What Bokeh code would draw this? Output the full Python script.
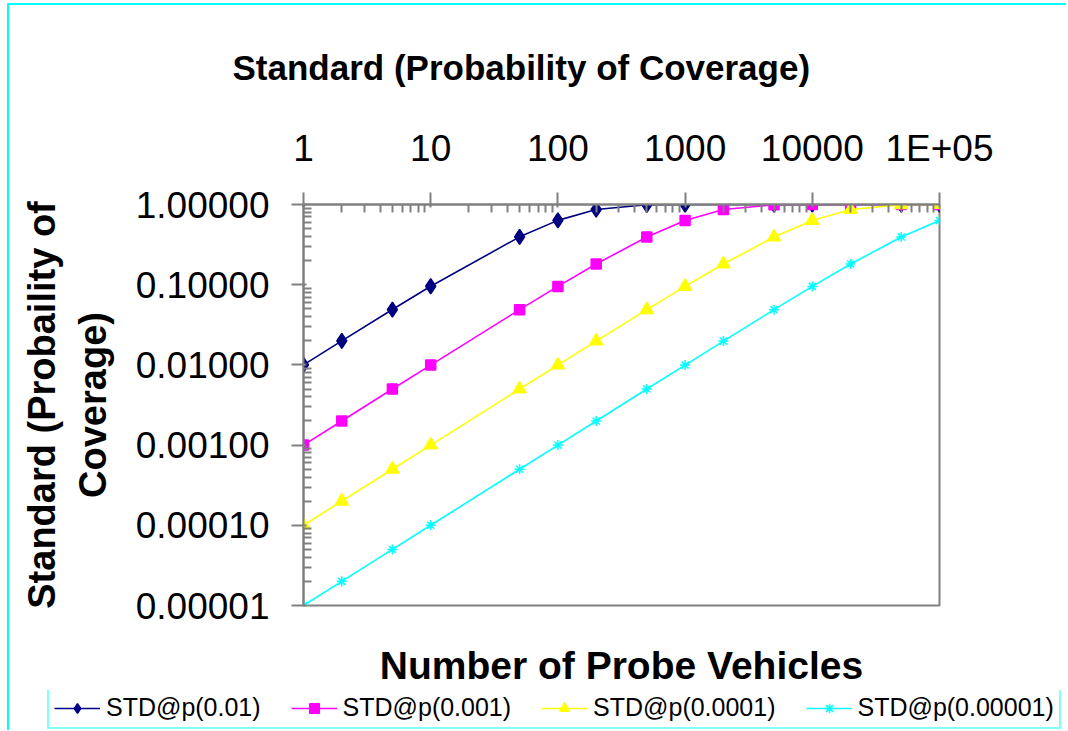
from bokeh.plotting import figure
from bokeh.layouts import column, row
from bokeh.models import (Range1d, FixedTicker, PrintfTickFormatter, Legend,
                          LegendItem, CustomJSTickFormatter, LogAxis)
from bokeh.embed import file_html
from bokeh.resources import INLINE

# ---------------- data ----------------
n_vehicles = [1, 2, 5, 10, 50, 100, 200, 500, 1000, 2000, 5000, 10000, 20000, 50000, 100000]
std_p_0_01 = [0.01, 0.0199, 0.049, 0.0956, 0.395, 0.634, 0.866, 0.9934, 1.0, 1.0, 1.0, 1.0, 1.0, 1.0, 1.0]
std_p_0_001 = [0.001, 0.002, 0.005, 0.00995, 0.0488, 0.0952, 0.181, 0.394, 0.632, 0.865, 0.9933, 1.0, 1.0, 1.0, 1.0]
std_p_0_0001 = [0.0001, 0.0002, 0.0005, 0.001, 0.005, 0.00995, 0.0198, 0.0488, 0.0952, 0.181, 0.393, 0.632, 0.865, 0.9933, 1.0]
std_p_0_00001 = [0.00001, 0.00002, 0.00005, 0.0001, 0.0005, 0.001, 0.002, 0.005, 0.00995, 0.0198, 0.0488, 0.0952, 0.181, 0.393, 0.632]
series_names = ["STD@p(0.01)", "STD@p(0.001)", "STD@p(0.0001)", "STD@p(0.00001)"]
x_tick_values = [1, 10, 100, 1000, 10000, 100000]
x_tick_labels = ["1", "10", "100", "1000", "10000", "1E+05"]
y_tick_values = [0.00001, 0.0001, 0.001, 0.01, 0.1, 1.0]

chart_title = "Standard (Probability of Coverage)"
x_title = "Number of Probe Vehicles"
y_title_lines = ["Standard (Probaility of", "Coverage)"]

# ---------------- styles ----------------
FONT = "Liberation Sans"
GRAY = "#808080"
CYAN = "#00FFFF"
colors = ["#000080", "#FF00FF", "#FFFF00", "#00FFFF"]
markers = ["diamond", "square", "triangle", "asterisk"]
msizes = [15, 10, 13, 10]

W = 1057
H_MAIN, H_LEG = 685, 40
FL, FR, FT, FB = 294, 930, 199, 600  # frame edges in canvas px

p = figure(width=W, height=H_MAIN, x_axis_type="log", y_axis_type="log",
           x_axis_location="above",
           x_range=Range1d(1, 100000), y_range=Range1d(0.00001, 1),
           output_backend="svg", toolbar_location=None,
           min_border_left=FL, min_border_right=W - FR,
           min_border_top=FT, min_border_bottom=H_MAIN - FB)
p.grid.visible = False
p.outline_line_color = GRAY
p.outline_line_width = 2
p.background_fill_color = "white"
p.border_fill_color = "white"

# title
p.title.text = chart_title
p.title.align = "left"
p.title.offset = 223 - FL
p.title.text_font = FONT
p.title.text_font_style = "bold"
p.title.text_font_size = "35px"
p.title.text_color = "black"
p.title.standoff = 76


def minor_for(ticks):
    out = []
    for a in ticks[:-1]:
        out += [a * m for m in range(2, 10)]
    return out


for ax in (p.xaxis[0], p.yaxis[0]):
    ax.axis_line_color = GRAY
    ax.axis_line_width = 2
    ax.major_tick_line_color = GRAY
    ax.major_tick_line_width = 2
    ax.minor_tick_line_color = GRAY
    ax.minor_tick_line_width = 2
    ax.major_tick_out = 12
    ax.major_tick_in = 3
    ax.minor_tick_in = 8
    ax.minor_tick_out = 0
    ax.major_label_text_font = FONT
    ax.major_label_text_font_size = "37px"
    ax.major_label_text_color = "black"
    ax.axis_label_text_font = FONT
    ax.axis_label_text_font_style = "bold"
    ax.axis_label_text_font_size = "38px"
    ax.axis_label_text_color = "black"

p.xaxis[0].ticker = FixedTicker(ticks=x_tick_values, minor_ticks=minor_for(x_tick_values))
p.xaxis[0].formatter = CustomJSTickFormatter(
    args=dict(vals=x_tick_values, labs=x_tick_labels),
    code="for (let i = 0; i < vals.length; i++) { if (Math.abs(vals[i] - tick) <= 1e-6 * vals[i]) return labs[i]; } return '';")
p.xaxis[0].major_label_standoff = 24

p.yaxis[0].ticker = FixedTicker(ticks=y_tick_values, minor_ticks=minor_for(y_tick_values))
p.yaxis[0].formatter = PrintfTickFormatter(format="%.5f")
p.yaxis[0].major_label_standoff = 22
p.yaxis[0].axis_label = y_title_lines[1]
p.yaxis[0].axis_label_standoff = 19

# outer y title line (extra axis carrying only a label)
y_outer = LogAxis(ticker=FixedTicker(ticks=[]), axis_line_color=None,
                  major_tick_line_color=None, minor_tick_line_color=None,
                  axis_label=y_title_lines[0], axis_label_standoff=6,
                  axis_label_text_font=FONT, axis_label_text_font_style="bold",
                  axis_label_text_font_size="38px", axis_label_text_color="black")
p.add_layout(y_outer, "left")

# x title below the frame (extra axis carrying only a label)
x_below = LogAxis(ticker=FixedTicker(ticks=[]), axis_line_color=None,
                  major_tick_line_color=None, minor_tick_line_color=None,
                  axis_label=x_title, axis_label_standoff=38,
                  axis_label_text_font=FONT, axis_label_text_font_style="bold",
                  axis_label_text_font_size="39px", axis_label_text_color="black")
p.add_layout(x_below, "below")

series = [std_p_0_01, std_p_0_001, std_p_0_0001, std_p_0_00001]
for name, ys, c, m, s in zip(series_names, series, colors, markers, msizes):
    p.line(n_vehicles, ys, line_color=c, line_width=1.6)
    p.scatter(n_vehicles, ys, marker=m, size=s, fill_color=c, line_color=c, line_width=1.5)

# ---------------- legend strip (its own small figure) ----------------
lf = figure(width=W, height=H_LEG, x_axis_type=None, y_axis_type=None,
            x_range=Range1d(0, 1), y_range=Range1d(0, 1),
            output_backend="svg", toolbar_location=None,
            min_border=0, min_border_left=0, min_border_right=0,
            min_border_top=0, min_border_bottom=0)
lf.outline_line_color = None
lf.grid.visible = False
items = []
for name, ys, c, m, s in zip(series_names, series, colors, markers, msizes):
    rl = lf.line(n_vehicles, ys, line_color=c, line_width=1.6, visible=False)
    rs = lf.scatter(n_vehicles, ys, marker=m, size=s, fill_color=c, line_color=c,
                    line_width=1.5, visible=False)
    items.append(LegendItem(label=name, renderers=[rl, rs]))
legend = Legend(items=items, orientation="horizontal", location=(38, 1),
                border_line_color=CYAN, border_line_width=2,
                background_fill_color="white", background_fill_alpha=1,
                inactive_fill_alpha=0,
                padding=5, spacing=30, margin=0,
                glyph_width=46, glyph_height=24, label_standoff=6,
                label_text_font=FONT, label_text_font_size="25px",
                label_text_color="black")
lf.add_layout(legend, "center")

layout = column(p, row(lf), spacing=0,
                styles={"border-left": "2px solid " + CYAN, "border-top": "2px solid " + CYAN,
                        "margin-left": "7px", "margin-top": "3px"})
open("out.html", "w").write(file_html(layout, INLINE))
